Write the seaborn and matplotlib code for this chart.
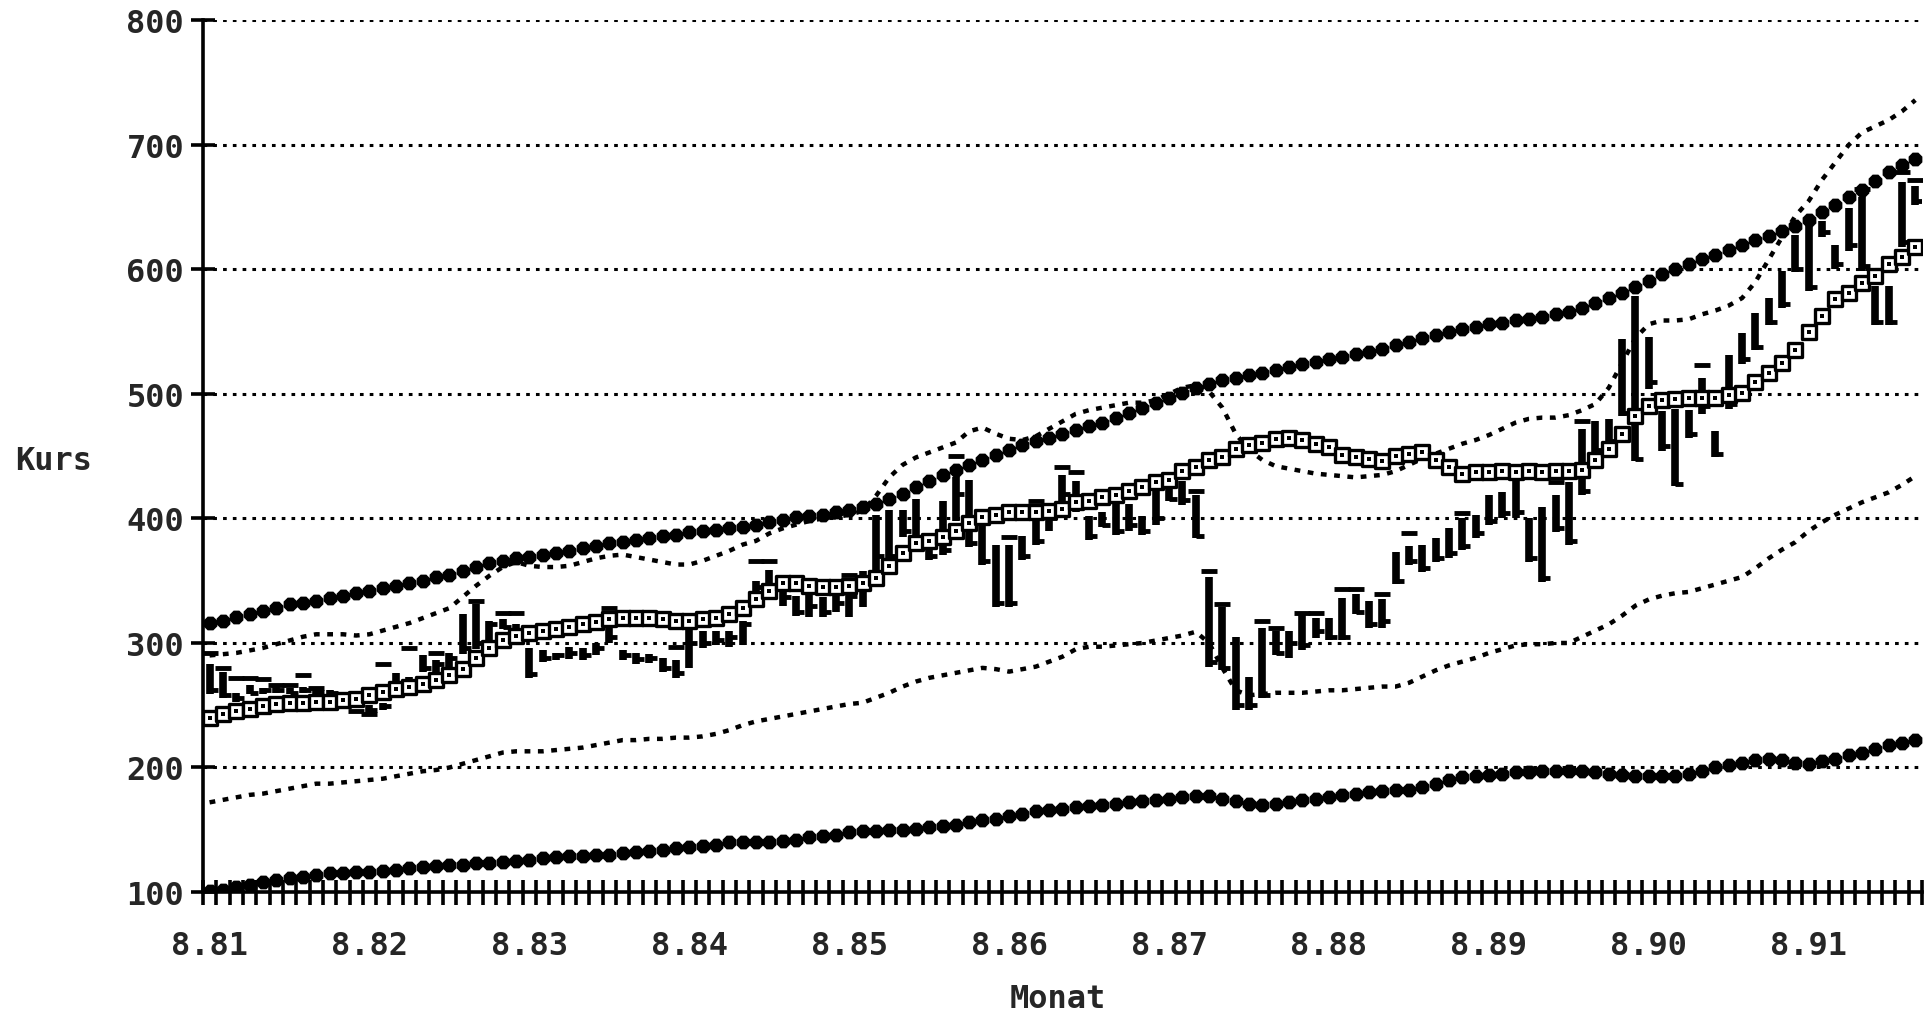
import numpy as np
import seaborn as sns
import matplotlib
matplotlib.use("Agg")
import matplotlib.pyplot as plt

# Monate ab 8.81 (Index 0) bis 4.92 (Index 128)
monate = np.arange(129)
jahr_labels = ['8.81', '8.82', '8.83', '8.84', '8.85', '8.86', '8.87', '8.88', '8.89', '8.90', '8.91']
jahr_monat = [0, 12, 24, 36, 48, 60, 72, 84, 96, 108, 120]

# obere Trendlinie (gefuellte Kreise)
obere = [316, 318, 321, 323, 326, 328, 331, 332, 334, 336, 338, 340,
         342, 344, 346, 348, 350, 353, 355, 358, 361, 364, 366, 368,
         369, 371, 372, 374, 376, 378, 380, 381, 383, 384, 386, 387,
         389, 390, 391, 392, 393, 395, 397, 399, 401, 402, 403, 405,
         407, 409, 412, 416, 420, 425, 430, 435, 439, 443, 447, 451,
         455, 459, 462, 465, 468, 471, 474, 477, 481, 485, 489, 493,
         497, 501, 505, 508, 511, 513, 515, 517, 519, 522, 524, 526,
         528, 530, 532, 534, 536, 539, 542, 545, 547, 550, 552, 554,
         556, 557, 559, 560, 562, 564, 566, 569, 573, 577, 581, 586,
         591, 596, 600, 604, 608, 612, 616, 620, 624, 627, 631, 635,
         640, 646, 652, 658, 664, 671, 678, 684, 689]

# untere Trendlinie (gefuellte Kreise)
untere = [101, 102, 104, 106, 108, 110, 111, 112, 114, 115, 115, 116,
          116, 117, 118, 119, 120, 121, 122, 122, 123, 123, 124, 125,
          126, 127, 128, 129, 129, 130, 130, 131, 132, 133, 134, 135,
          136, 137, 138, 140, 140, 140, 140, 141, 142, 144, 145, 146,
          148, 149, 149, 150, 150, 151, 152, 153, 154, 156, 158, 159,
          161, 163, 165, 166, 167, 168, 169, 170, 171, 172, 173, 174,
          175, 176, 177, 177, 175, 173, 171, 170, 171, 172, 174, 175,
          176, 178, 179, 180, 181, 182, 182, 184, 187, 190, 192, 193,
          194, 195, 196, 196, 197, 197, 197, 197, 196, 195, 194, 193,
          193, 193, 193, 195, 197, 200, 202, 204, 206, 207, 206, 204,
          203, 205, 207, 210, 212, 215, 218, 220, 222]

# gleitender Durchschnitt (offene Quadrate)
schnitt = [240, 243, 245, 247, 249, 251, 252, 252, 253, 253, 254, 255,
           258, 261, 263, 265, 267, 270, 274, 279, 288, 296, 302, 306,
           308, 310, 311, 313, 315, 317, 319, 320, 320, 320, 319, 318,
           318, 319, 320, 323, 328, 335, 342, 348, 348, 346, 345, 345,
           346, 348, 352, 362, 372, 380, 382, 385, 390, 396, 401, 403,
           405, 405, 405, 406, 408, 413, 414, 417, 419, 422, 425, 429,
           431, 438, 441, 447, 449, 456, 459, 461, 464, 465, 463, 460,
           457, 451, 449, 448, 446, 450, 452, 453, 447, 441, 436, 437,
           437, 438, 437, 438, 437, 438, 438, 439, 447, 456, 468, 482,
           490, 495, 496, 497, 497, 497, 499, 501, 510, 517, 525, 535,
           550, 563, 576, 581, 589, 595, 604, 610, 618]

# oberes und unteres Band (punktiert)
band_oben = [290, 291, 292, 294, 296, 299, 302, 305, 307, 307, 307, 306,
             307, 310, 313, 316, 320, 324, 328, 337, 346, 354, 361, 365,
             362, 361, 361, 362, 365, 368, 370, 371, 369, 367, 365, 363,
             363, 366, 370, 374, 379, 382, 388, 392, 395, 398, 400, 401,
             403, 406, 418, 433, 443, 449, 453, 457, 461, 470, 473, 468,
             464, 463, 466, 472, 478, 484, 487, 489, 491, 493, 493, 495,
             500, 505, 507, 502, 489, 468, 455, 447, 442, 440, 438, 436,
             435, 434, 433, 434, 435, 438, 443, 448, 452, 456, 460, 463,
             467, 472, 477, 480, 481, 481, 483, 487, 492, 505, 525, 545,
             556, 559, 559, 560, 564, 567, 571, 577, 590, 608, 626, 643,
             655, 672, 686, 700, 710, 715, 720, 727, 736]
band_unten = [172, 174, 176, 178, 179, 181, 183, 185, 187, 187, 188, 189,
              190, 191, 193, 195, 197, 198, 200, 203, 206, 209, 212, 213,
              213, 213, 214, 215, 216, 218, 220, 222, 222, 223, 223, 224,
              224, 225, 227, 230, 234, 237, 239, 241, 243, 245, 247, 249,
              251, 252, 256, 260, 265, 269, 272, 274, 276, 278, 280, 279,
              277, 279, 281, 285, 289, 295, 297, 297, 298, 299, 300, 302,
              304, 306, 309, 300, 280, 262, 258, 259, 260, 260, 260, 261,
              262, 262, 263, 264, 265, 265, 268, 273, 278, 282, 285, 288,
              292, 295, 298, 299, 299, 300, 300, 305, 310, 315, 322, 330,
              335, 338, 340, 341, 344, 347, 350, 353, 360, 368, 375, 381,
              390, 397, 403, 408, 413, 417, 421, 427, 434]

# Monatsbalken: Tief, Hoch, Schluss
tief = [259, 256, 253, 259, 259, 260, 259, 260, 259, 258, 255, 250,
        244, 246, 262, 265, 277, 277, 280, 291, 295, 302, 311, 300,
        272, 285, 286, 287, 286, 290, 300, 286, 283, 284, 277, 272,
        280, 296, 298, 297, 298, 339, 335, 330, 322, 321, 321, 325,
        321, 329, 358, 367, 385, 382, 367, 371, 398, 377, 363, 329,
        329, 367, 379, 390, 414, 405, 383, 393, 387, 390, 387, 395,
        414, 411, 384, 281, 278, 246, 246, 256, 290, 288, 294, 304,
        302, 302, 323, 312, 312, 347, 363, 357, 365, 368, 375, 384,
        395, 400, 400, 365, 349, 389, 379, 419, 450, 459, 482, 446,
        504, 454, 426, 465, 484, 449, 488, 524, 535, 555, 569, 598,
        583, 626, 600, 615, 599, 555, 555, 618, 652]
hoch = [283, 277, 260, 266, 264, 266, 264, 265, 264, 262, 260, 256,
        250, 252, 276, 273, 290, 286, 292, 323, 331, 318, 319, 315,
        296, 294, 292, 297, 296, 300, 318, 294, 292, 291, 288, 286,
        315, 310, 310, 310, 318, 350, 359, 345, 338, 339, 337, 340,
        342, 358, 403, 407, 407, 416, 385, 414, 433, 431, 394, 379,
        379, 386, 398, 410, 435, 430, 402, 405, 414, 412, 402, 423,
        425, 430, 419, 353, 329, 305, 273, 312, 310, 310, 324, 320,
        320, 336, 339, 334, 335, 373, 378, 379, 384, 392, 400, 403,
        419, 421, 432, 400, 409, 419, 429, 472, 478, 480, 544, 579,
        546, 486, 488, 487, 513, 470, 531, 549, 565, 577, 599, 628,
        636, 639, 620, 649, 658, 587, 587, 670, 667]
schluss = [262, 258, 256, 260, 262, 262, 260, 262, 261, 260, 257, 252,
           246, 249, 268, 268, 280, 283, 288, 296, 300, 315, 313, 306,
           275, 288, 290, 292, 290, 296, 305, 290, 287, 288, 280, 276,
           300, 300, 302, 305, 315, 345, 340, 337, 325, 330, 325, 332,
           338, 350, 370, 370, 390, 385, 370, 375, 420, 380, 366, 332,
           332, 370, 382, 400, 420, 410, 386, 395, 390, 395, 390, 400,
           416, 415, 386, 285, 280, 250, 250, 258, 292, 300, 298, 310,
           305, 305, 325, 315, 318, 350, 366, 360, 368, 372, 378, 388,
           398, 404, 405, 368, 352, 392, 382, 422, 455, 462, 485, 448,
           510, 458, 428, 468, 490, 452, 492, 528, 538, 558, 572, 600,
           586, 630, 604, 620, 603, 558, 558, 622, 655]

# kurze Striche ueber einzelnen Balken
strich_monat = [0, 1, 2, 3, 4, 5, 6, 7, 8, 11, 12, 13, 15, 17, 20, 22, 23, 30, 35,
                41, 42, 48, 56, 60, 62, 64, 65, 74, 75, 76, 79, 80, 82, 83, 85, 86,
                88, 90, 94, 98, 101, 103, 112, 124, 127, 128]
strich_wert = [292, 280, 272, 272, 271, 266, 266, 274, 264, 245, 243, 283, 296, 292,
               334, 324, 324, 328, 297, 366, 366, 355, 450, 385, 414, 441, 437, 422,
               358, 331, 318, 312, 324, 324, 343, 343, 339, 388, 404, 440, 429, 478,
               523, 665, 678, 672]

sns.set_style("white")
plt.rcParams['font.family'] = ['DejaVu Sans Mono', 'DejaVu Sans']
plt.rcParams['font.weight'] = 'bold'

fig = plt.figure(figsize=(19.27, 10.20), dpi=100)
ax = fig.add_axes([0.1053, 0.1245, 0.8921, 0.8545])

# Gitterlinien
for wert in [200, 300, 400, 500, 600, 700, 800]:
    ax.axhline(wert, color='black', lw=2.2, ls=(0, (1.2, 2.0)), zorder=1)

# Baender
sns.lineplot(x=monate, y=band_oben, ax=ax, color='black', lw=3.2,
             linestyle=(0, (1.3, 1.7)), zorder=2)
sns.lineplot(x=monate, y=band_unten, ax=ax, color='black', lw=3.2,
             linestyle=(0, (1.3, 1.7)), zorder=2)

# Trendlinien aus Kreisen
sns.scatterplot(x=monate, y=obere, ax=ax, marker='8', s=115, color='black',
                linewidth=0, zorder=3)
sns.scatterplot(x=monate, y=untere, ax=ax, marker='8', s=115, color='black',
                linewidth=0, zorder=3)

# Monatsbalken
ax.vlines(monate, tief, hoch, color='black', lw=5.5, zorder=4)
ax.hlines(schluss, monate, monate + 0.6, color='black', lw=3.5, zorder=4)
ax.plot(strich_monat, strich_wert, ls='none', marker='_', ms=12, mew=3.5,
        color='black', zorder=4)

# gleitender Durchschnitt
sns.scatterplot(x=monate, y=schnitt, ax=ax, marker='s', s=115, color='white',
                edgecolor='black', linewidth=2.4, zorder=5)
sns.scatterplot(x=monate, y=schnitt, ax=ax, marker='s', s=12, color='black',
                linewidth=0, zorder=6)

ax.set_xlim(-0.5, 128.5)
ax.set_ylim(100, 800)
ax.set_yticks([100, 200, 300, 400, 500, 600, 700, 800])
ax.set_xticks(jahr_monat)
ax.set_xticklabels(jahr_labels)
ax.set_xticks(np.arange(-0.5, 128.6, 1), minor=True)

ax.tick_params(axis='x', which='major', bottom=False, length=0, pad=27, labelsize=23)
ax.tick_params(axis='x', which='minor', bottom=True, direction='inout', length=18,
               width=2.6, color='black')
ax.tick_params(axis='y', left=True, direction='inout', length=17, width=2.6, pad=5,
               labelsize=23, color='black')
for lab in ax.get_xticklabels() + ax.get_yticklabels():
    lab.set_fontweight('bold')

for side in ['top', 'right']:
    ax.spines[side].set_visible(False)
for side in ['left', 'bottom']:
    ax.spines[side].set_linewidth(2.6)
    ax.spines[side].set_color('black')
ax.set_xlabel('')
ax.set_ylabel('')

fig.text(54 / 1927, 1 - 462 / 1020, 'Kurs', ha='center', va='center',
         fontsize=23, fontweight='bold')
fig.text(1058 / 1927, 1 - 1000 / 1020, 'Monat', ha='center', va='center',
         fontsize=23, fontweight='bold')

fig.savefig('out.png', dpi=100)
